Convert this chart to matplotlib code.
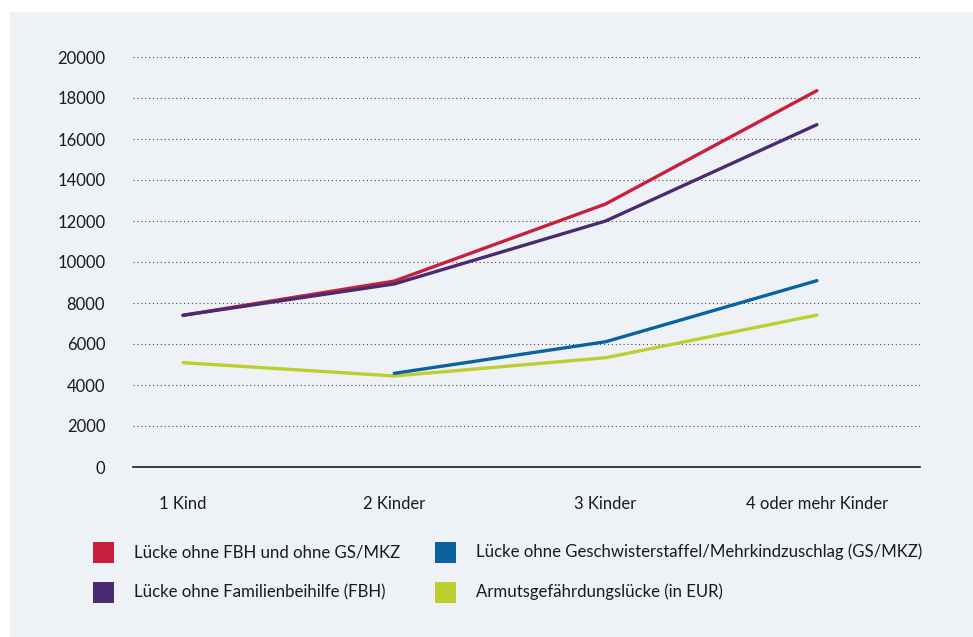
import matplotlib
matplotlib.use("Agg")
import matplotlib.pyplot as plt
from matplotlib.patches import Rectangle
import numpy as np

plt.rcParams['font.family'] = ['Lato', 'DejaVu Sans']

categories = ["1 Kind", "2 Kinder", "3 Kinder", "4 oder mehr Kinder"]
red_vals = [7400, 9070, 12830, 18360]
purple_vals = [7400, 8930, 12000, 16700]
blue_vals = [np.nan, 4570, 6110, 9090]
green_vals = [5090, 4440, 5330, 7410]
yticks = [0, 2000, 4000, 6000, 8000, 10000, 12000, 14000, 16000, 18000, 20000]

labels = ["Lücke ohne FBH und ohne GS/MKZ",
          "Lücke ohne Familienbeihilfe (FBH)",
          "Lücke ohne Geschwisterstaffel/Mehrkindzuschlag (GS/MKZ)",
          "Armutsgefährdungslücke (in EUR)"]
colors = ["#c8203c", "#4a2a70", "#0a62a0", "#bccf2f"]

W, H = 973, 637
fig = plt.figure(figsize=(W/100, H/100), dpi=100)
fig.patch.set_facecolor("white")
fig.patches.append(Rectangle((10/W, 0), 1 - 10/W, 1 - 12/H, transform=fig.transFigure,
                             facecolor="#eef2f6", edgecolor="none", zorder=-10))

ax = fig.add_axes([133/W, 1 - 467/H, (920-133)/W, (467-57)/H])
ax.set_zorder(5)
ax.set_facecolor("none")
x = np.arange(len(categories))
series = [red_vals, purple_vals, blue_vals, green_vals]
order = [3, 2, 0, 1]
for i in order:
    ax.plot(x, series[i], color=colors[i], lw=2.4, solid_capstyle="round",
            solid_joinstyle="round", zorder=3)

ax.set_xlim(-50/211.3, (920-183)/211.3)
ax.set_ylim(0, 20000)
ax.set_yticks(yticks)
ax.set_yticklabels([str(v) for v in yticks])
ax.set_xticks(x)
ax.set_xticklabels(categories)
for s in ["top", "right", "left"]:
    ax.spines[s].set_visible(False)
ax.spines["bottom"].set_color("#1a1a1a")
ax.spines["bottom"].set_linewidth(1.2)
ax.tick_params(axis="both", length=0, labelsize=12, colors="#1a1a1a")
ax.tick_params(axis="y", pad=20)
ax.tick_params(axis="x", pad=21)
ax.grid(axis="y", linestyle=(0, (1, 2.5)), color="#444444", linewidth=0.8)
ax.xaxis.grid(False)
ax.set_axisbelow(True)

# legend
leg_items = [(93, 552, 0), (435, 552, 2), (93, 592, 1), (435, 592, 3)]
for px, py, i in leg_items:
    fig.patches.append(Rectangle((px/W, 1 - (py+10.5)/H), 21/W, 21/H, transform=fig.transFigure,
                                 facecolor=colors[i], edgecolor="none", zorder=2))
    fig.text((px+41)/W, 1 - py/H, labels[i], fontsize=12.1, va="center", ha="left",
             color="#1a1a1a")

fig.savefig("out.png", dpi=100)
